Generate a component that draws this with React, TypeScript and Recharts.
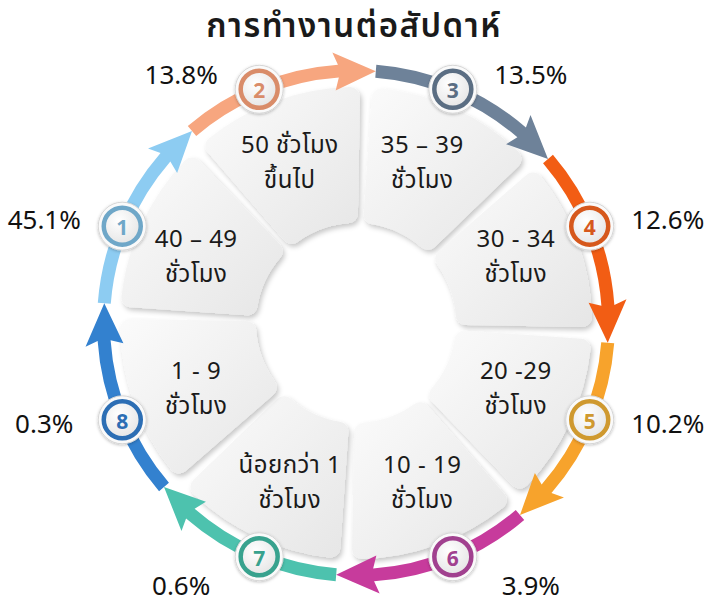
import React from 'react';
import { Cell, Pie, PieChart } from 'recharts';

// steps go clockwise, starting with circle 1 on the upper left
const stepNumbers = [1, 2, 3, 4, 5, 6, 7, 8];
const hoursLine1 = ['40 – 49', '50 ชั่วโมง', '35 – 39', '30 - 34', '20 -29', '10 - 19', 'น้อยกว่า 1', '1 - 9'];
const hoursLine2 = ['ชั่วโมง', 'ขึ้นไป', 'ชั่วโมง', 'ชั่วโมง', 'ชั่วโมง', 'ชั่วโมง', 'ชั่วโมง', 'ชั่วโมง'];
const shares = [45.1, 13.8, 13.5, 12.6, 10.2, 3.9, 0.6, 0.3];
// every step takes the same arc in the graphic
const stepWeights = [1, 1, 1, 1, 1, 1, 1, 1];

const arrowColors = ['#8dccf2', '#f7a67f', '#6e8299', '#f25d14', '#f7a32c', '#c73b9c', '#4dc2ae', '#3381cf'];
const ringColors = ['#6fa7c8', '#d98c69', '#5b6e83', '#d6581c', '#cf992f', '#a1418f', '#38a28e', '#2c6eb4'];

const title = 'การทำงานต่อสัปดาห์';

const W = 720;
const H = 606;
const CX = 356;
const CY = 323;
const RAD = Math.PI / 180;
const FONT = "Tahoma, 'Noto Sans Thai', 'Leelawadee UI', 'Noto Sans', sans-serif";

const rows = stepNumbers.map((n, i) => ({
  step: n,
  line1: hoursLine1[i],
  line2: hoursLine2[i],
  share: shares[i],
  weight: stepWeights[i],
}));

const pt = (cx: number, cy: number, r: number, a: number) =>
  `${cx + r * Math.cos(-a * RAD)},${cy + r * Math.sin(-a * RAD)}`;

function renderArrow(props: any) {
  const { cx, cy, startAngle, endAngle, index } = props;
  const rIn = 246;
  const rOut = 259;
  const rMid = (rIn + rOut) / 2;
  const base = endAngle + 8.5;
  const d =
    `M${pt(cx, cy, rOut, startAngle)} A${rOut},${rOut} 0 0 1 ${pt(cx, cy, rOut, base)} ` +
    `L${pt(cx, cy, rMid + 19, base + 1)} L${pt(cx, cy, rMid, endAngle)} L${pt(cx, cy, rMid - 19, base + 1)} ` +
    `L${pt(cx, cy, rIn, base)} A${rIn},${rIn} 0 0 0 ${pt(cx, cy, rIn, startAngle)} Z`;
  return <path key={`arrow-${index}`} d={d} fill={arrowColors[index]} />;
}

function renderMarker(props: any) {
  const { cx, cy, midAngle, index, payload } = props;
  const c = Math.cos(-midAngle * RAD);
  const s = Math.sin(-midAngle * RAD);
  const mx = cx + 253 * c;
  const my = cy + 253 * s;
  const tx = cx + 173 * c;
  const ty = cy + 173 * s;
  const up = -s;
  const px = mx + Math.sign(c) * 78;
  const py = my + (up > 0 ? -14 * up : 36 * up * up);
  const row = payload ?? rows[index];
  return (
    <g key={`marker-${index}`}>
      <text x={tx} y={ty - 17} textAnchor="middle" dominantBaseline="central" fontSize={24} fill="#1a1a1a" fontFamily={FONT} letterSpacing={0.5}>
        {row.line1}
      </text>
      <text x={tx} y={ty + 18} textAnchor="middle" dominantBaseline="central" fontSize={24} fill="#1a1a1a" fontFamily={FONT} letterSpacing={0.5}>
        {row.line2}
      </text>
      <circle cx={mx} cy={my} r={24} fill="#fafafa" stroke="#d6d6d6" strokeWidth={1} filter="url(#knobShadow)" />
      <circle cx={mx} cy={my} r={18.5} fill="url(#knobFill)" stroke={ringColors[index]} strokeWidth={4.5} />
      <text x={mx} y={my + 1} textAnchor="middle" dominantBaseline="central" fontSize={21} fontWeight={700} fill={ringColors[index]} fontFamily="'Open Sans', sans-serif">
        {row.step}
      </text>
      <text x={px} y={py} textAnchor="middle" dominantBaseline="central" fontSize={26} fill="#111" fontFamily={FONT}>
        {`${row.share.toFixed(1)}%`}
      </text>
    </g>
  );
}

export default function App() {
  return (
    <div style={{ position: 'absolute', left: 0, top: 0, width: W, height: H, background: '#fff' }}>
      <svg width={0} height={0} style={{ position: 'absolute' }}>
        <defs>
          <linearGradient id="boxFill" x1="0" y1="0" x2="1" y2="1">
            <stop offset="0%" stopColor="#fbfbfb" />
            <stop offset="100%" stopColor="#e6e6e6" />
          </linearGradient>
          <radialGradient id="knobFill" cx="40%" cy="35%" r="70%">
            <stop offset="0%" stopColor="#ffffff" />
            <stop offset="100%" stopColor="#e4e4e4" />
          </radialGradient>
          <filter id="boxShadow" x="-20%" y="-20%" width="140%" height="140%">
            <feDropShadow dx={2} dy={3} stdDeviation={2.5} floodColor="#000" floodOpacity={0.22} />
          </filter>
          <filter id="knobShadow" x="-30%" y="-30%" width="160%" height="160%">
            <feDropShadow dx={0} dy={1} stdDeviation={1.5} floodColor="#000" floodOpacity={0.25} />
          </filter>
        </defs>
      </svg>
      <div style={{ position: 'absolute', left: -6, top: 2, width: W, textAlign: 'center', fontFamily: FONT, fontWeight: 600, fontSize: 33, letterSpacing: 1.5, color: '#1a1a1a' }}>
        {title}
      </div>
      <PieChart width={W} height={H} margin={{ top: 0, right: 0, bottom: 0, left: 0 }}>
        <Pie
          data={rows}
          dataKey="weight"
          cx={CX}
          cy={CY}
          startAngle={176}
          endAngle={-184}
          innerRadius={100}
          outerRadius={236}
          paddingAngle={3}
          cornerRadius={10}
          stroke="none"
          isAnimationActive={false}
        >
          {rows.map((r) => (
            <Cell key={r.step} fill="url(#boxFill)" filter="url(#boxShadow)" />
          ))}
        </Pie>
        <Pie
          data={rows}
          dataKey="weight"
          cx={CX}
          cy={CY}
          startAngle={175.5}
          endAngle={-184.5}
          innerRadius={246}
          outerRadius={259}
          fill="transparent"
          stroke="none"
          label={renderArrow}
          labelLine={false}
          isAnimationActive={false}
        />
        <Pie
          data={rows}
          dataKey="weight"
          cx={CX}
          cy={CY}
          startAngle={180}
          endAngle={-180}
          innerRadius={100}
          outerRadius={253}
          fill="transparent"
          stroke="none"
          label={renderMarker}
          labelLine={false}
          isAnimationActive={false}
        />
      </PieChart>
    </div>
  );
}
